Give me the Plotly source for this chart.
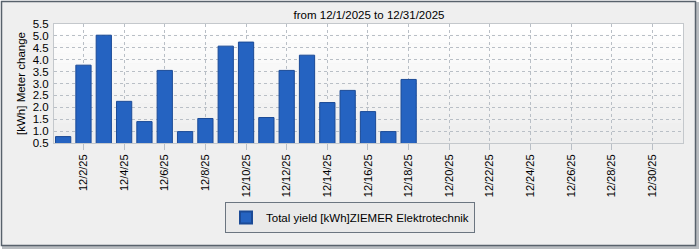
import plotly.graph_objects as go

days = list(range(1, 19))
values = [0.77, 3.77, 5.03, 2.25, 1.40, 3.55, 0.98, 1.53, 4.57, 4.74,
          1.57, 3.55, 4.19, 2.20, 2.71, 1.82, 0.98, 3.17]
tick_days = list(range(2, 31, 2))
tick_labels = [f"12/{d}/25" for d in tick_days]
series_name = "Total yield [kWh]ZIEMER Elektrotechnik"
title_text = "from 12/1/2025 to 12/31/2025"
y_title = "[kWh] Meter change"

FONT = "Liberation Sans"

fig = go.Figure()
fig.add_trace(go.Bar(
    x=days, y=values, name=series_name, width=0.75,
    marker=dict(color="#2563c1", line=dict(color="#1b4a96", width=1)),
    showlegend=True,
))

PL, PR, PT, PB = 54, 683, 24, 143
W, H = PR - PL, PB - PT


def fx(px):
    return (px - PL) / W


def fy(py):
    return (PB - py) / H


# outer frame with shadow
fig.add_shape(type="rect", xref="paper", yref="paper", layer="below",
              x0=fx(3), x1=fx(698), y0=fy(248), y1=fy(3),
              line=dict(color="#b8bcc0", width=2), fillcolor="#b8bcc0")
fig.add_shape(type="rect", xref="paper", yref="paper", layer="below",
              x0=fx(1.5), x1=fx(695.5), y0=fy(245.5), y1=fy(1.5),
              line=dict(color="#58626c", width=1.5), fillcolor="#efefef")
# light gradient in plot area
n = 12
for i in range(n):
    c = int(255 - (255 - 238) * i / (n - 1))
    fig.add_shape(type="rect", xref="paper", yref="paper", layer="below",
                  x0=0, x1=1, y0=1 - (i + 1) / n, y1=1 - i / n,
                  line=dict(width=0), fillcolor=f"rgb({c},{c},{c})")

fig.update_layout(
    width=700, height=250,
    margin=dict(l=PL, r=700 - PR, t=PT, b=250 - PB, autoexpand=False),
    paper_bgcolor="rgba(0,0,0,0)",
    plot_bgcolor="rgba(0,0,0,0)",
    font=dict(family=FONT, size=11, color="#000000"),
    title=dict(text=title_text, x=369 / 700, xanchor="center",
               y=1 - 15 / 250, yanchor="middle",
               font=dict(family=FONT, size=11.5, color="#000000")),
    legend=dict(orientation="h", xref="container", yref="container",
                x=0.5, xanchor="center", y=1 - 202 / 250, yanchor="top",
                bgcolor="#e9e9e9", bordercolor="#6b7580", borderwidth=1,
                font=dict(family=FONT, size=11.5, color="#000000"),
                itemsizing="constant"),
    xaxis=dict(range=[0.55, 31.5], tickmode="array", tickvals=tick_days,
               ticktext=tick_labels, tickangle=-90,
               showgrid=True, gridcolor="#b9bfc6", griddash="dot", gridwidth=1,
               ticks="outside", ticklen=6, tickcolor="#b9bfc6",
               showline=True, linecolor="#c4c8cc", linewidth=1, mirror=True,
               zeroline=False, tickfont=dict(size=11, family=FONT)),
    yaxis=dict(range=[0.5, 5.5], dtick=0.5, tick0=0.5, tickformat=".1f",
               showgrid=True, gridcolor="#b9bfc6", griddash="dot", gridwidth=1,
               showline=True, linecolor="#c4c8cc", linewidth=1, mirror=True,
               zeroline=False, ticks="", ticklabelstandoff=2,
               title=dict(text=y_title, standoff=4,
                          font=dict(size=11.5, family=FONT)),
               tickfont=dict(size=11.5, family=FONT)),
)

fig.write_html("out.html")
